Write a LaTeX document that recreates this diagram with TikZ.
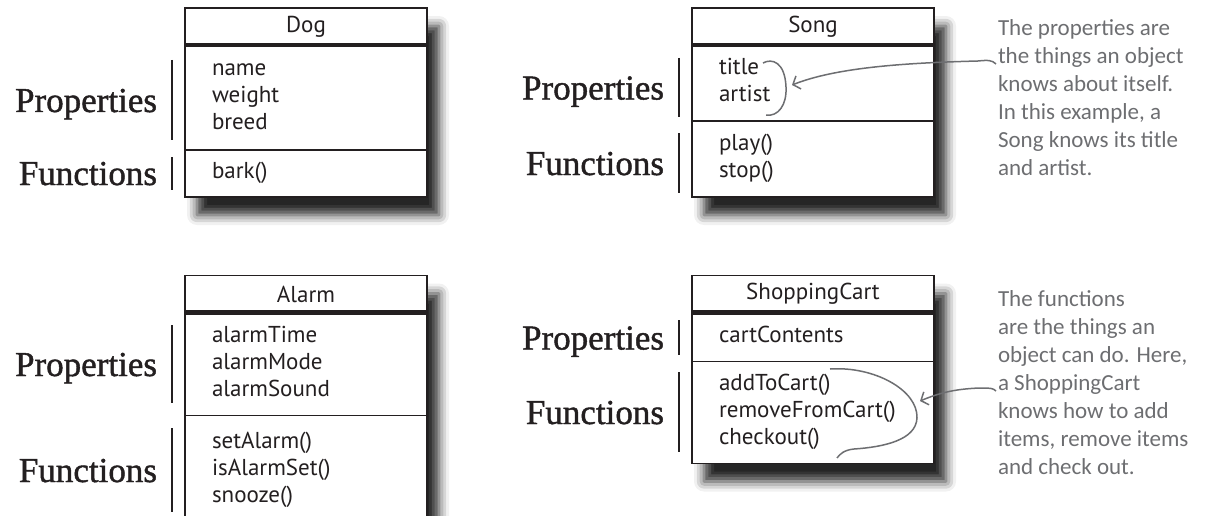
\documentclass[tikz,border=0pt]{standalone}
\usepackage{fontspec}
\setmainfont{PT Sans}
\newfontfamily\labelfont[FakeBold=1.2]{Liberation Serif}
\newfontfamily\notefont{Carlito}
\usetikzlibrary{arrows.meta, positioning, fit, backgrounds, shadows.blur}
\definecolor{inkblack}{HTML}{231F20}
\definecolor{notegray}{HTML}{6D6E71}

\begin{document}
\begin{tikzpicture}[x=1pt, y=-1pt,
    every node/.style={outer sep=0pt},
    head/.style={draw=inkblack, line width=1.8pt, minimum width=242pt, minimum height=37pt, inner sep=0pt, text=inkblack, font=\fontsize{23}{27}\selectfont},
    members/.style={draw=inkblack, line width=1.8pt, text width=188pt, inner xsep=27pt, inner ysep=2pt, align=left, text=inkblack, font=\fontsize{23}{27}\selectfont, execute at begin node=\strut, execute at end node=\strut},
    frame/.style={draw=inkblack, line width=1.8pt, fill=white, inner sep=0pt, blur shadow={shadow xshift=12pt, shadow yshift=-18pt, shadow blur radius=10pt, shadow opacity=85}},
    band/.style={draw=inkblack, line width=4.5pt},
    side/.style={font=\labelfont\fontsize{35}{40}\selectfont, anchor=base east, inner sep=0pt, text=inkblack},
    bar/.style={draw=inkblack, line width=1.8pt},
    note/.style={font=\notefont\fontsize{23}{28}\selectfont, text=notegray, align=left, inner sep=0pt, anchor=west, execute at begin node=\strut, execute at end node=\strut},
    notearrow/.style={draw=notegray, line width=1.5pt, -{Straight Barb[length=6pt, width=14pt]}},
    brace/.style={draw=notegray, line width=1.5pt}
]
\useasboundingbox (0,0) rectangle (1206,516);

% Dog
\node[head] (dog) at (306,26.5) {Dog};
\node[members, minimum height=105pt, below=0pt of dog] (dogprops) {name\\weight\\breed};
\node[members, minimum height=47pt, below=0pt of dogprops] (dogfuncs) {bark()};

% Song
\node[head] (song) at (813,26.5) {Song};
\node[members, minimum height=76pt, below=0pt of song] (songprops) {title\\artist};
\node[members, minimum height=76pt, below=0pt of songprops] (songfuncs) {play()\\stop()};

% Alarm
\node[head] (alarm) at (306,294) {Alarm};
\node[members, minimum height=103pt, below=0pt of alarm] (alarmprops) {alarmTime\\alarmMode\\alarmSound};
\node[members, minimum height=110pt, below=0pt of alarmprops] (alarmfuncs) {setAlarm()\\isAlarmSet()\\snooze()};

% ShoppingCart
\node[head] (cart) at (813,294) {ShoppingCart};
\node[members, minimum height=49pt, below=0pt of cart] (cartprops) {cartContents};
\node[members, minimum height=102pt, below=0pt of cartprops] (cartfuncs) {addToCart()\\removeFromCart()\\checkout()};

\begin{pgfonlayer}{background}
\node[frame, fit=(dog)(dogfuncs)] (dogbox) {};
\node[frame, fit=(song)(songfuncs)] (songbox) {};
\node[frame, fit=(alarm)(alarmfuncs)] (alarmbox) {};
\node[frame, fit=(cart)(cartfuncs)] (cartbox) {};
\end{pgfonlayer}

\draw[band] (dog.south west) -- (dog.south east);
\draw[band] (song.south west) -- (song.south east);
\draw[band] (alarm.south west) -- (alarm.south east);
\draw[band] (cart.south west) -- (cart.south east);

% side labels
\node[side] (dogproplabel) at (157,112) {Properties};
\node[side] (dogfunclabel) at (157,185) {Functions};
\node[side] (songproplabel) at (664,99.5) {Properties};
\node[side] (songfunclabel) at (664,175) {Functions};
\node[side] (alarmproplabel) at (157,376) {Properties};
\node[side] (alarmfunclabel) at (157,482) {Functions};
\node[side] (cartproplabel) at (664,349.5) {Properties};
\node[side] (cartfunclabel) at (664,424) {Functions};

\draw[bar] (172,60) -- (172,140);
\draw[bar] (172,157) -- (172,190);
\draw[bar] (679,58) -- (679,117);
\draw[bar] (679,133) -- (679,193);
\draw[bar] (172,325) -- (172,403);
\draw[bar] (172,428) -- (172,512);
\draw[bar] (679,320) -- (679,355);
\draw[bar] (679,372) -- (679,452);

% notes
\node[note] (propnote) at (998,101.5) {The properties are\\the things an object\\knows about itself.\\In this example, a\\Song knows its title\\and artist.};
\node[note] (funcnote) at (998,387) {The functions\\are the things an\\object can do. Here,\\a ShoppingCart\\knows how to add\\items, remove items\\and check out.};

\draw[brace] (763,63) .. controls (772,58) and (785,62) .. (786,87) .. controls (787,105) and (778,117) .. (766,115);
\draw[brace] (830,369) .. controls (874,366) and (918,390) .. (917,418) .. controls (916,440) and (884,447) .. (854,449) .. controls (844,450) and (840,454) .. (837,458);

\coordinate (songtail) at (996,64);
\coordinate (songtip) at (792,85);
\coordinate (carttail) at (996,391);
\coordinate (carttip) at (920,401);
\draw[notearrow] (songtail) .. controls (992,60) and (988,60) .. (978,61) .. controls (900,63) and (835,68) .. (songtip);
\draw[notearrow] (carttail) .. controls (993,388) and (990,388) .. (980,388) .. controls (952,389) and (937,394) .. (carttip);

\end{tikzpicture}
\end{document}
